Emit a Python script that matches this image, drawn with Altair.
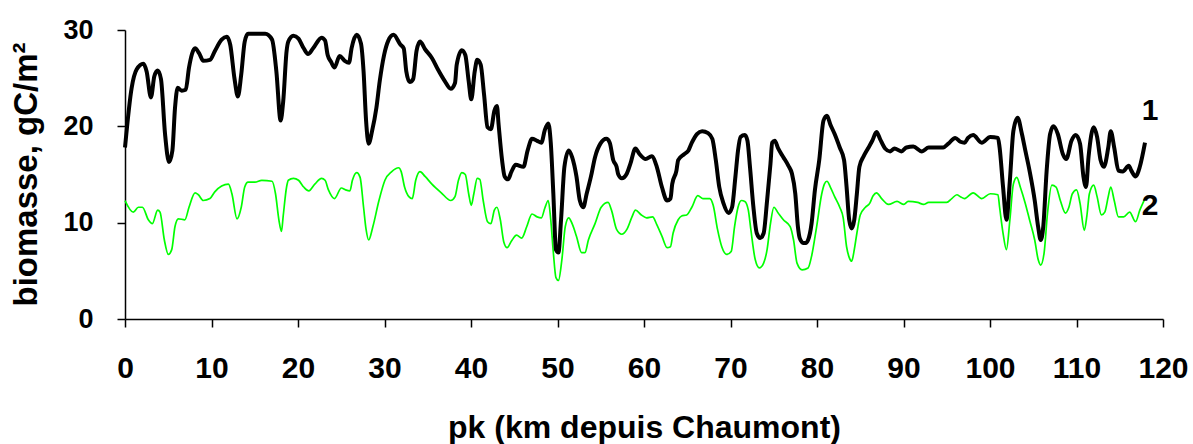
import altair as alt
import pandas as pd

# Series 1 (black, thick): (pk km, biomass gC/m2)
series1 = [(0,17.8),(0.77,24.0),(1.34,25.9),(2.12,26.5),(2.5,25.7),(3.0,23.0),(3.39,25.2),(3.78,25.8),(4.16,24.9),(4.63,19.2),(5.09,16.3),(5.48,17.5),(5.78,21.9),(6.09,24.0),(6.55,23.7),(7.02,23.8),(7.4,26.1),(8.1,28.1),(8.56,27.6),(9.05,26.8),(9.82,26.9),(10.38,27.8),(11.17,29.0),(11.76,29.3),(12.16,28.5),(12.65,25.0),(13.05,23.1),(13.44,25.4),(13.84,28.8),(14.23,29.6),(16.21,29.6),(17.0,29.0),(17.5,25.7),(17.99,20.6),(18.29,22.6),(18.68,27.8),(18.88,28.8),(19.47,29.4),(20.06,29.1),(20.66,28.1),(21.15,27.5),(21.75,28.1),(22.73,29.2),(23.13,28.9),(23.43,27.4),(23.82,26.7),(24.22,26.1),(24.81,27.3),(25.4,26.8),(25.9,26.6),(26.19,28.1),(26.79,29.5),(27.28,28.6),(27.58,25.7),(27.87,20.6),(28.17,18.2),(28.56,19.5),(29.06,21.9),(29.45,24.7),(29.95,27.4),(30.44,28.9),(31.04,29.5),(31.83,28.5),(32.22,28.1),(32.52,25.7),(32.91,24.6),(33.31,24.9),(33.7,27.8),(34.1,28.8),(34.69,28.0),(35.48,27.1),(36.18,25.9),(36.97,24.7),(37.66,23.9),(38.15,24.5),(38.35,26.4),(38.94,27.9),(39.34,27.4),(39.73,24.7),(40.03,22.8),(40.43,25.7),(40.72,26.9),(41.12,26.4),(41.51,23.3),(41.91,19.9),(42.3,19.7),(42.7,21.6),(43.0,22.1),(43.19,20.2),(43.59,16.5),(43.89,14.8),(44.28,14.5),(44.68,15.3),(45.17,16.0),(46.06,15.8),(46.55,17.5),(47.05,18.7),(47.64,18.5),(48.14,18.3),(48.53,19.6),(48.93,20.3),(49.22,18.3),(49.52,13.0),(49.82,7.2),(50.11,6.9),(50.41,10.3),(50.8,15.8),(51.3,17.5),(51.69,16.8),(52.19,14.8),(52.58,12.3),(52.98,11.6),(53.37,13.0),(53.87,14.8),(54.34,16.8),(54.96,18.2),(55.65,18.7),(56.04,18.3),(56.44,16.5),(56.83,15.8),(57.03,15.0),(57.43,14.6),(58.02,15.1),(58.42,16.1),(59.01,17.7),(59.5,17.1),(60.19,16.6),(60.89,16.9),(61.48,15.8),(62.07,13.7),(62.67,12.3),(63.06,12.5),(63.26,14.0),(63.75,15.4),(63.95,16.5),(64.64,17.1),(65.14,17.5),(65.53,18.3),(66.12,19.2),(66.72,19.5),(67.41,19.3),(67.9,18.7),(68.3,16.5),(68.7,13.7),(69.19,12.0),(69.78,11.0),(70.18,11.6),(70.57,14.8),(70.87,17.5),(71.16,18.9),(71.66,19.1),(71.96,18.5),(72.25,15.8),(72.65,11.6),(73.04,8.9),(73.44,8.4),(73.83,8.9),(74.23,12.3),(74.62,16.1),(74.82,18.3),(75.12,18.5),(75.51,17.7),(76.11,16.8),(76.7,15.9),(77.1,15.1),(77.49,13.0),(77.79,9.6),(78.0,8.4),(78.4,7.9),(78.7,7.9),(78.97,8.2),(79.37,9.9),(79.76,13.4),(80.26,16.5),(80.75,20.6),(81.15,21.1),(81.54,20.2),(82.04,19.2),(82.63,17.8),(83.13,16.5),(83.42,13.7),(83.72,10.3),(84.01,9.4),(84.31,10.3),(84.61,13.0),(84.9,15.8),(85.4,16.9),(85.89,17.7),(86.39,18.5),(86.88,19.4),(87.28,18.7),(87.87,17.7),(88.46,17.4),(88.96,17.7),(89.75,17.4),(90.34,17.8),(91.13,17.9),(92.12,17.4),(92.91,17.8),(94.59,17.8),(95.18,18.2),(95.98,18.8),(96.57,18.4),(97.06,18.3),(97.46,18.8),(98.05,19.1),(99.04,18.3),(100.03,18.9),(100.92,18.8),(101.11,17.8),(101.51,13.7),(101.9,10.3),(102.3,14.4),(102.7,19.5),(103.19,20.9),(103.69,19.2),(104.08,17.5),(104.57,15.4),(105.17,12.3),(105.56,9.6),(105.86,8.2),(106.16,9.6),(106.55,15.4),(106.95,19.2),(107.34,20.0),(107.84,19.2),(108.43,17.1),(108.82,16.6),(109.42,18.5),(109.91,19.1),(110.41,18.2),(110.8,14.8),(111.1,13.7),(111.39,16.8),(111.99,19.9),(112.38,18.9),(112.78,16.5),(113.17,15.8),(113.67,17.8),(113.96,19.5),(114.36,17.8),(114.85,15.4),(115.35,15.3),(116.04,15.9),(116.34,15.4),(116.83,14.8),(117.32,15.8),(117.92,18.3)]

# Series 2 (green, thin)
series2 = [(0,12.3),(0.96,11.1),(1.54,11.6),(2.01,11.6),(2.7,10.3),(3.16,9.9),(3.78,11.3),(4.05,11.1),(4.55,8.2),(5.01,6.7),(5.4,7.2),(5.78,9.6),(6.17,10.4),(6.92,10.3),(7.4,11.6),(8.1,13.1),(8.48,12.9),(9.05,12.3),(9.82,12.5),(10.38,13.2),(11.17,13.8),(11.96,14.0),(12.36,13.0),(12.95,10.4),(13.44,11.6),(13.84,13.7),(14.23,14.2),(15.02,14.2),(15.81,14.4),(17.0,14.3),(17.4,13.0),(17.79,10.3),(18.09,9.1),(18.29,10.7),(18.68,13.7),(18.88,14.4),(19.47,14.6),(20.06,14.4),(20.66,13.7),(21.25,13.3),(21.94,14.0),(22.73,14.6),(23.13,14.4),(23.52,13.4),(24.22,12.5),(25.01,13.6),(25.5,13.4),(26.0,13.3),(26.29,14.4),(26.79,15.2),(27.18,14.7),(27.58,11.6),(27.87,9.3),(28.17,8.2),(28.66,9.6),(29.36,12.3),(30.05,14.4),(30.84,15.3),(31.63,15.7),(31.93,15.3),(32.32,13.7),(32.82,12.7),(33.21,12.5),(33.61,14.4),(34.1,15.3),(34.69,14.8),(35.48,14.0),(36.57,13.1),(37.66,12.3),(38.15,12.7),(38.55,14.4),(38.94,15.2),(39.34,15.0),(39.73,13.0),(40.03,11.8),(40.33,13.0),(40.72,14.6),(41.02,14.5),(41.41,12.3),(41.91,10.1),(42.3,9.9),(42.7,11.3),(43.0,11.6),(43.39,10.3),(43.79,8.0),(44.18,7.4),(44.68,8.1),(45.27,8.7),(45.86,8.4),(46.45,9.6),(47.05,10.9),(47.64,10.6),(48.14,10.5),(48.53,11.5),(48.93,12.3),(49.22,10.3),(49.52,6.9),(49.82,4.3),(50.11,4.0),(50.51,6.2),(50.9,9.6),(51.3,10.5),(51.69,9.9),(52.19,8.6),(52.78,6.9),(53.18,6.9),(53.57,8.2),(54.34,9.9),(55.05,11.6),(55.85,12.1),(56.24,11.3),(56.83,9.3),(57.43,8.8),(58.02,9.3),(58.61,10.6),(59.01,11.3),(59.7,10.8),(60.29,10.5),(60.99,10.6),(61.48,9.8),(62.07,8.6),(62.67,7.4),(63.06,7.5),(63.36,8.9),(63.95,10.3),(64.35,10.7),(64.94,10.8),(65.53,11.6),(66.22,12.8),(66.82,12.5),(67.61,12.5),(68.0,11.8),(68.5,9.3),(68.99,7.5),(69.58,6.7),(70.08,7.0),(70.47,9.6),(70.87,11.6),(71.26,12.3),(71.66,12.2),(72.06,11.3),(72.35,9.3),(72.85,6.2),(73.34,5.3),(73.83,5.8),(74.23,7.2),(74.62,9.9),(75.02,11.6),(75.51,11.0),(76.11,10.3),(76.9,9.6),(77.29,8.2),(77.69,5.8),(78.28,5.1),(78.97,5.3),(79.37,6.5),(79.96,9.6),(80.55,13.0),(80.85,14.0),(81.15,14.3),(81.54,13.7),(82.04,12.7),(82.63,11.6),(83.03,10.5),(83.42,7.5),(83.72,6.4),(84.01,6.0),(84.31,7.2),(84.61,8.9),(85.0,10.8),(85.6,11.6),(86.09,12.0),(86.49,12.8),(86.88,13.1),(87.47,12.5),(88.26,11.9),(89.25,12.2),(90.04,11.9),(90.54,12.2),(91.63,12.1),(92.32,11.9),(92.91,12.1),(94.99,12.1),(95.58,12.5),(96.17,12.9),(96.57,12.7),(97.06,12.5),(98.05,13.1),(99.04,12.5),(100.03,13.0),(100.92,12.9),(101.11,11.6),(101.51,8.9),(101.9,7.2),(102.3,10.3),(102.7,14.0),(103.1,14.7),(103.5,13.7),(104.08,12.0),(104.57,10.3),(105.17,8.2),(105.56,6.2),(105.86,5.6),(106.26,6.9),(106.65,11.0),(107.15,13.9),(107.64,13.7),(108.13,12.3),(108.72,11.0),(109.12,11.6),(109.52,13.0),(110.01,13.4),(110.41,12.0),(110.9,9.2),(111.2,10.7),(111.49,13.0),(111.99,13.9),(112.38,12.7),(112.88,10.8),(113.27,11.1),(113.67,12.7),(113.96,13.7),(114.36,12.3),(114.85,10.6),(115.45,10.6),(116.14,11.1),(116.83,10.1),(117.32,11.3),(117.92,12.5)]

label_text = ["1", "2"]
label_km = [118.5, 118.5]
label_val = [21.6, 11.7]

x_ticks = list(range(0, 121, 10))
y_ticks = [0, 10, 20, 30]

FONT = "Liberation Sans"

df1 = pd.DataFrame(series1, columns=["pk", "biomasse"])
df2 = pd.DataFrame(series2, columns=["pk", "biomasse"])
dfl = pd.DataFrame({"pk": label_km, "biomasse": label_val, "txt": label_text})

xscale = alt.Scale(domain=[0, 120], nice=False, zero=False)
yscale = alt.Scale(domain=[0, 30], nice=False)

xaxis = alt.Axis(values=x_ticks, grid=False, labelFont=FONT, labelFontSize=30,
                 labelFontWeight="bold", labelColor="black", labelPadding=26,
                 labelFlush=False, labelOverlap=False,
                 tickColor="black", tickSize=8, tickWidth=1.5,
                 domainColor="black", domainWidth=1.5,
                 title="pk (km depuis Chaumont)", titleFont=FONT, titleFontSize=32,
                 titleFontWeight="bold", titleColor="black",
                 titleBaseline="alphabetic", titleY=118)
yaxis = alt.Axis(values=y_ticks, grid=False, labelFont=FONT, labelFontSize=27,
                 labelFontWeight="bold", labelColor="black", labelPadding=24,
                 tickColor="black", tickSize=8, tickWidth=1.5,
                 domainColor="black", domainWidth=1.5,
                 title="biomasse, gC/m²", titleFont=FONT, titleFontSize=33,
                 titleFontWeight="bold", titleColor="black", titleAngle=270,
                 titleBaseline="alphabetic", titleAlign="center",
                 titleX=-89, titleY=144)

x_enc = alt.X("pk:Q", scale=xscale, axis=xaxis)
y_enc = alt.Y("biomasse:Q", scale=yscale, axis=yaxis)

green = alt.Chart(df2).mark_line(color="#00FF00", strokeWidth=1.7,
                                 interpolate="monotone").encode(
    x=x_enc, y=y_enc, order="pk:Q")
black = alt.Chart(df1).mark_line(color="black", strokeWidth=4, strokeJoin="round",
                                 interpolate="monotone").encode(
    x="pk:Q", y="biomasse:Q", order="pk:Q")
labels = alt.Chart(dfl).mark_text(font=FONT, fontSize=30, fontWeight="bold",
                                  color="black", align="center", baseline="middle").encode(
    x="pk:Q", y="biomasse:Q", text="txt:N")

chart = alt.layer(green, black, labels).properties(
    width=1038, height=289,
    padding={"left": 125, "top": 30, "right": 30, "bottom": 125},
    autosize=alt.AutoSizeParams(type="none"),
    background="white",
).configure_view(strokeWidth=0)

chart.save("out.html", embed_options={"renderer": "svg", "actions": False})
